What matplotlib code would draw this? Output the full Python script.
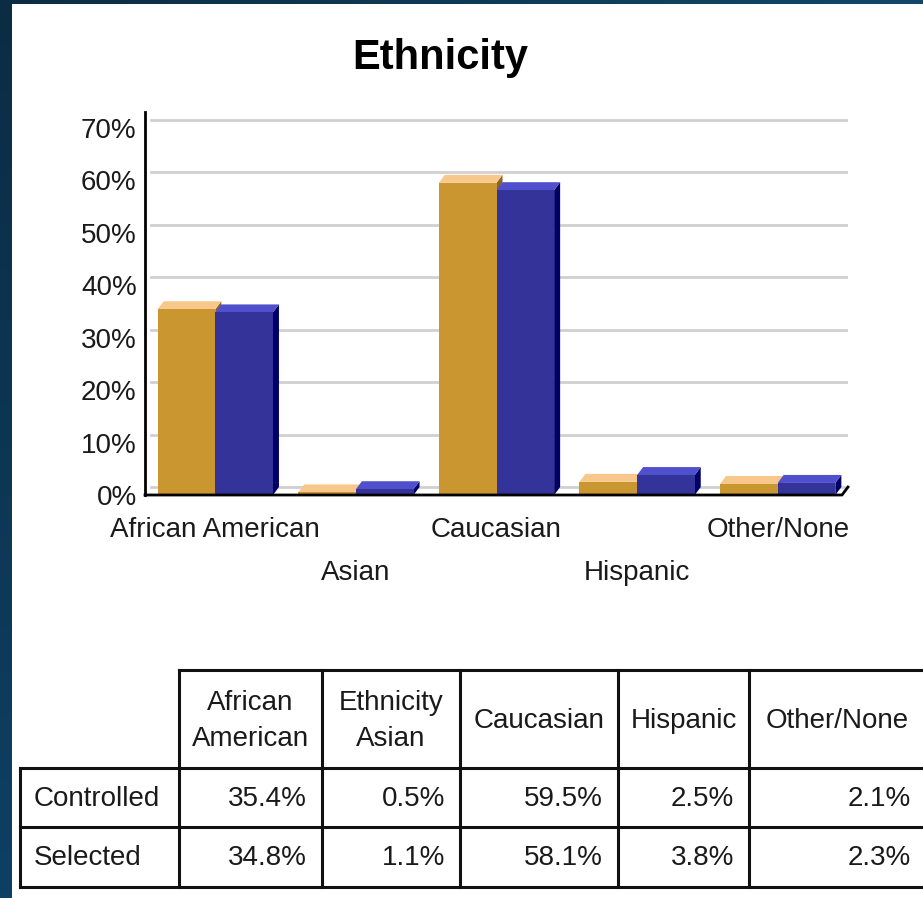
import matplotlib.pyplot as plt
import numpy as np
from matplotlib.patches import Polygon
from matplotlib.colors import LinearSegmentedColormap

plt.rcParams['font.family'] = ['Liberation Sans', 'DejaVu Sans']

categories = ["African American", "Asian", "Caucasian", "Hispanic", "Other/None"]
header_labels = ["African\nAmerican", "Ethnicity\nAsian", "Caucasian", "Hispanic", "Other/None"]
controlled = [35.4, 0.5, 59.5, 2.5, 2.1]
selected = [34.8, 1.1, 58.1, 3.8, 2.3]
row_names = ["Controlled", "Selected"]
y_ticks = [0, 10, 20, 30, 40, 50, 60, 70]

W, H = 923, 898
fig = plt.figure(figsize=(W / 100, H / 100), dpi=100, facecolor='white')

# dark frame on the left and top edges
bg = fig.add_axes([0, 0, 1, 1], zorder=-10)
bg.axis('off')
bg.imshow(np.linspace(0, 1, 256).reshape(-1, 1), extent=(0, 12, H, 0),
          cmap=LinearSegmentedColormap.from_list('frame', ['#0c2c44', '#0e4063']), aspect='auto')
bg.imshow(np.linspace(0, 1, 256).reshape(1, -1), extent=(0, W, 4.5, 0),
          cmap=LinearSegmentedColormap.from_list('frame2', ['#0c2c44', '#124868']), aspect='auto')
bg.set_xlim(0, W)
bg.set_ylim(H, 0)

# chart area
ax_left, ax_right, ax_top, ax_base = 145, 848, 112, 495
ax = fig.add_axes([ax_left / W, (H - ax_base) / H, (ax_right - ax_left) / W, (ax_base - ax_top) / H])
ax.set_xlim(-0.5, 4.5)
ax.set_ylim(0, 73)
ax.patch.set_alpha(0)

x = np.arange(len(categories))
bw = 0.41
dx = 6 / 140.6
dy = 8 / 5.25

# back wall gridlines
for v in y_ticks:
    ax.plot([-0.5 + dx, 4.5], [v + dy, v + dy], color='#d0d0d0', lw=2, zorder=1)

series = [
    (controlled, x - bw, '#c9962f', '#f7c78c', '#8c6422'),
    (selected, x, '#333399', '#5050cc', '#000066'),
]
for vals, x0s, front, top, side in series:
    for x0, v in zip(x0s, vals):
        x1 = x0 + bw
        ax.add_patch(Polygon([(x1, 0), (x1, v), (x1 + dx, v + dy), (x1 + dx, dy)],
                             closed=True, facecolor=side, edgecolor='none', zorder=2))
        ax.add_patch(Polygon([(x0, v), (x0 + dx, v + dy), (x1 + dx, v + dy), (x1, v)],
                             closed=True, facecolor=top, edgecolor='none', zorder=2))
    ax.bar(x0s, vals, bw, align='edge', color=front, edgecolor='none', zorder=3)

# axis lines
ax.plot([-0.5, 4.5 - dx, 4.5], [0, 0, dy], color='black', lw=2, zorder=4, clip_on=False)
ax.plot([-0.5, -0.5], [0, 73], color='black', lw=2, zorder=4, clip_on=False)
for s in ax.spines.values():
    s.set_visible(False)

ax.set_yticks(y_ticks)
ax.set_yticklabels([f"{v}%" for v in y_ticks], fontsize=20, color='#1a1a1a')
ax.tick_params(axis='y', length=0, pad=6)
ax.set_xticks([])

for i, name in enumerate(categories):
    off = -25 if i % 2 == 0 else -56
    ax.annotate(name, xy=(x[i], 0), xycoords=('data', 'axes fraction'),
                xytext=(0, off), textcoords='offset points',
                ha='center', va='center', fontsize=20, color='#1a1a1a')

fig.text(440 / W, 1 - 58 / H, "Ethnicity", ha='center', va='center',
         fontsize=30, fontweight='bold', color='black')

# data table
tb = fig.add_axes([0, 0, 1, 1], zorder=5)
tb.set_xlim(0, W)
tb.set_ylim(H, 0)
tb.axis('off')
col_x = [20, 179, 322, 460, 618, 749, 935]
row_y = [670, 768, 827, 887]
lk = dict(color='#111111', lw=2.2, solid_capstyle='projecting')

tb.plot([col_x[1], col_x[-1]], [row_y[0], row_y[0]], **lk)
for y in row_y[1:]:
    tb.plot([col_x[0], col_x[-1]], [y, y], **lk)
tb.plot([col_x[0], col_x[0]], [row_y[1], row_y[3]], **lk)
for cx in col_x[1:-1]:
    tb.plot([cx, cx], [row_y[0], row_y[3]], **lk)

for j, lab in enumerate(header_labels):
    cx = (col_x[j + 1] + col_x[j + 2]) / 2
    if j == 4:
        cx = 837
    tb.text(cx, (row_y[0] + row_y[1]) / 2 + 2, lab, ha='center', va='center',
            fontsize=20, color='#1a1a1a', linespacing=1.45)

for r, (name, vals) in enumerate(zip(row_names, [controlled, selected])):
    cy = (row_y[r + 1] + row_y[r + 2]) / 2 + 1
    tb.text(col_x[0] + 14, cy, name, ha='left', va='center', fontsize=20, color='#1a1a1a')
    for j, v in enumerate(vals):
        rx = col_x[j + 2] - 15 if j < 4 else 911
        tb.text(rx, cy, f"{v:.1f}%", ha='right', va='center', fontsize=20, color='#1a1a1a')

fig.savefig("out.png", dpi=100, facecolor='white')
